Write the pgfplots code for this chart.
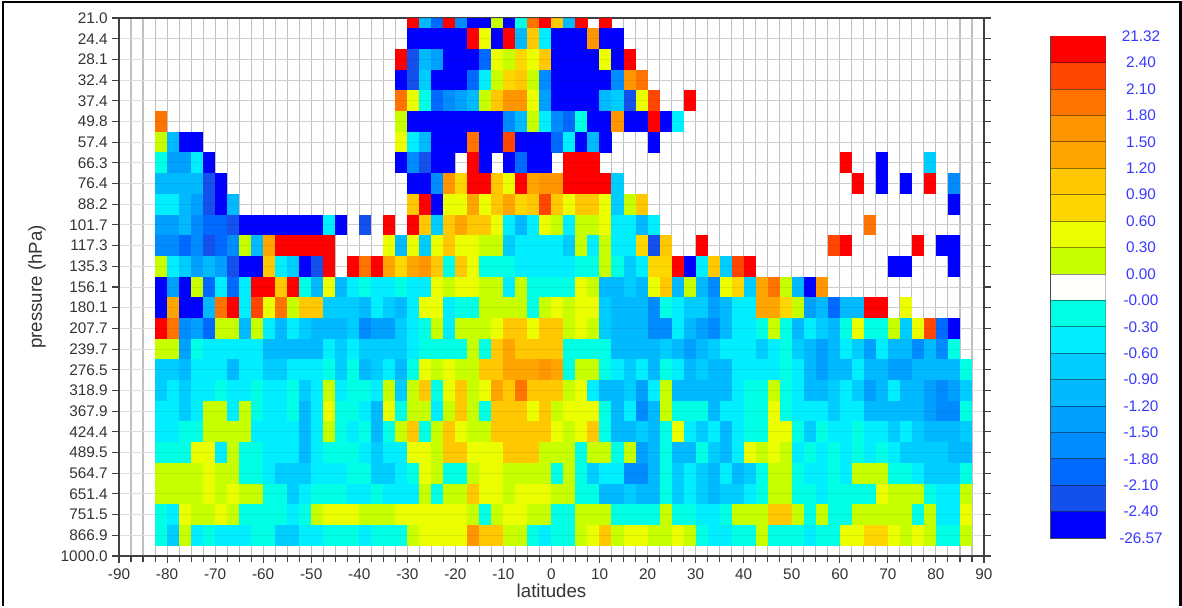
\documentclass[border=0pt]{standalone}
\usepackage{pgfplots}
\usepackage{pgfplotstable}
\usepackage{fontspec}
\setmainfont{Liberation Sans}
\pgfplotsset{compat=1.18}
% class index of each cell: one line per pressure level, one value per 2.5 degree column from -82.5 on
% 0 = -26.57..-2.40 ... 8 = -0.30..-0.00, 9 = no data, 10 = 0.00..0.30 ... 18 = 2.40..21.32
\pgfplotstableread[header=false]{
9 9 9 9 9 9 9 9 9 9  9 9 9 9 9 9 9 9 9 9  9 18 5 2 18 3 0 0 10 0  8 16 18 13 5 18 9 18 9 9  9 9 9 9 9 9 9 9 9 9  9 9 9 9 9 9 9 9 9 9  9 9 9 9 9 9 9 9
9 9 9 9 9 9 9 9 9 9  9 9 9 9 9 9 9 9 9 9  9 0 0 0 0 0 18 11 0 18  5 13 7 0 0 0 15 0 0 9  9 9 9 9 9 9 9 9 9 9  9 9 9 9 9 9 9 9 9 9  9 9 9 9 9 9 9 9
9 9 9 9 9 9 9 9 9 9  9 9 9 9 9 9 9 9 9 9  18 1 5 4 0 0 0 2 11 10  12 11 13 0 0 0 0 11 0 18  9 9 9 9 9 9 9 9 9 9  9 9 9 9 9 9 9 9 9 9  9 9 9 9 9 9 9 9
9 9 9 9 9 9 9 9 9 9  9 9 9 9 9 9 9 9 9 9  0 1 6 0 0 0 2 7 10 12  13 10 3 0 0 0 0 0 3 15  16 9 9 9 9 9 9 9 9 9  9 9 9 9 9 9 9 9 9 9  9 9 9 9 9 9 9 9
9 9 9 9 9 9 9 9 9 9  9 9 9 9 9 9 9 9 9 9  16 11 8 2 3 4 5 10 13 15  15 11 4 0 0 0 0 5 6 1  11 17 9 9 18 9 9 9 9 9  9 9 9 9 9 9 9 9 9 9  9 9 9 9 9 9 9 9
16 9 9 9 9 9 9 9 9 9  9 9 9 9 9 9 9 9 9 9  10 0 0 0 0 0 0 0 0 3  5 10 7 3 2 8 0 0 15 0  0 18 0 7 9 9 9 9 9 9  9 9 9 9 9 9 9 9 9 9  9 9 9 9 9 9 9 9
10 5 0 0 9 9 9 9 9 9  9 9 9 9 9 9 9 9 9 9  11 7 5 0 0 0 16 0 0 17  0 0 0 2 7 0 5 0 9 9  9 0 9 9 9 9 9 9 9 9  9 9 9 9 9 9 9 9 9 9  9 9 9 9 9 9 9 9
8 4 4 7 0 9 9 9 9 9  9 9 9 9 9 9 9 9 9 9  0 3 1 0 0 9 18 0 9 0  2 0 0 9 18 18 18 9 9 9  9 9 9 9 9 9 9 9 9 9  9 9 9 9 9 9 9 18 9 9  0 9 9 9 6 9 9 9
5 5 5 5 1 0 9 9 9 9  9 9 9 9 9 9 9 9 9 9  9 0 0 3 15 12 18 18 13 11  18 14 15 15 18 18 18 18 6 9  9 9 9 9 9 9 9 9 9 9  9 9 9 9 9 9 9 9 18 9  0 9 0 9 18 9 3 9
7 7 5 4 1 0 5 9 9 9  9 9 9 9 9 9 9 9 9 9  9 13 18 0 11 11 14 11 13 14  12 13 17 13 11 13 13 11 6 10  13 9 9 9 9 9 9 9 9 9  9 9 9 9 9 9 9 9 9 9  9 9 9 9 9 9 0 9
4 4 5 3 2 2 1 0 0 0  0 0 0 0 7 0 9 1 9 18  9 18 13 6 13 14 13 13 11 7  5 7 11 10 7 10 10 11 7 7  5 7 9 9 9 9 9 9 9 9  9 9 9 9 9 9 9 9 9 16  9 9 9 9 9 9 9 9
3 3 2 3 1 2 3 10 5 14  18 18 18 18 18 9 9 9 9 11  5 11 6 11 13 11 11 10 10 6  7 7 7 7 6 10 7 10 7 7  12 1 13 9 9 18 9 9 9 9  9 9 9 9 9 9 17 18 9 9  9 9 9 18 9 0 0 9
10 7 6 4 5 4 1 0 0 13  7 6 0 1 18 9 18 16 18 14  12 14 15 13 8 13 11 8 8 8  7 7 7 7 7 8 8 10 8 6  7 12 12 18 0 7 13 6 17 18  9 9 9 9 9 9 9 9 9 9  9 0 0 9 9 9 0 9
0 4 0 10 2 7 2 7 18 18  13 18 8 5 11 5 7 8 7 7  8 7 7 11 10 11 11 10 10 7  10 8 8 8 8 11 10 5 5 6  5 11 13 5 10 5 3 11 12 6  14 16 10 5 0 15 9 9 9 9  9 9 9 9 9 9 9 9
0 14 0 0 5 16 18 7 17 11  16 10 13 13 6 6 6 5 7 6  5 7 11 11 7 8 8 10 10 10  10 8 10 11 10 11 11 6 5 5  5 3 8 7 6 6 4 5 7 7  14 14 12 10 4 5 2 5 5 18  18 9 11 9 9 9 9 9
18 16 3 4 2 10 10 5 10 7  5 7 6 5 5 5 6 3 4 4  6 7 8 10 7 10 10 10 11 13  13 11 13 13 10 11 10 6 5 5  5 3 3 7 5 4 3 5 7 7  8 10 8 5 7 6 5 8 11 8  8 10 6 11 17 2 0 9
10 10 4 8 7 7 7 7 7 5  5 5 5 5 7 6 7 6 6 6  6 7 8 8 8 8 10 8 13 14  13 13 13 13 8 8 8 8 5 5  5 5 6 5 4 5 6 7 7 7  6 7 8 6 5 4 5 7 6 4  7 5 5 3 5 3 8 9
6 6 5 7 7 7 5 7 7 6  6 7 7 7 8 6 8 5 6 7  5 8 11 10 11 10 10 13 13 14  14 14 15 14 8 10 10 8 7 6  7 5 8 7 5 6 5 5 7 7  7 7 8 7 5 4 5 5 7 5  5 4 4 5 5 5 5 8
6 7 6 7 7 8 7 7 8 7  7 8 6 7 10 7 8 8 7 10  6 10 13 8 11 13 10 11 14 13  16 13 13 13 10 11 7 5 5 6  4 7 10 5 5 5 5 5 7 8  8 10 8 7 5 5 6 7 6 4  5 7 5 5 4 3 4 6
7 7 6 7 10 10 7 10 8 7  7 8 5 7 11 8 8 7 5 11  8 10 10 7 10 13 10 8 13 13  13 11 13 10 11 11 11 8 5 7  3 5 10 8 8 8 5 7 7 8  8 11 8 7 7 7 6 7 7 5  5 5 5 5 4 3 3 8
7 7 8 8 10 10 10 10 7 7  7 7 5 7 10 8 7 8 5 8  10 13 8 10 13 11 10 10 13 13  13 13 13 11 10 11 13 8 5 5  6 5 8 11 7 6 7 5 7 8  8 11 11 8 6 8 7 7 8 7  7 6 7 6 5 5 5 6
8 8 8 11 11 7 10 8 8 7  7 7 5 7 8 8 8 7 6 7  7 11 11 10 13 13 11 11 11 13  13 13 10 10 10 8 10 10 8 10  4 5 8 5 5 8 6 5 7 11  10 11 10 7 8 7 8 7 8 7  8 7 6 6 6 6 5 5
10 10 10 10 11 10 10 8 8 7  6 6 6 7 7 7 8 8 6 6  7 8 11 10 8 8 10 11 11 10  10 10 10 8 10 8 6 7 7 3  3 5 8 6 7 6 5 7 5 6  8 10 10 8 7 7 8 7 10 10  10 8 8 7 6 6 6 8
10 10 10 10 11 10 11 10 10 8  8 6 7 8 8 8 7 7 8 7  7 7 10 8 10 10 13 11 11 10  11 11 11 10 10 8 8 5 5 6  5 5 8 6 7 6 5 6 6 7  8 10 10 8 8 7 8 8 8 8  11 10 10 10 8 7 7 10
8 7 11 10 10 11 10 8 8 8  8 7 8 10 11 11 11 10 10 10  11 11 11 11 11 11 10 8 10 11  11 10 10 8 8 10 10 10 8 8  8 8 10 8 8 7 7 8 10 10  10 13 13 10 8 10 8 8 10 10  10 10 10 8 10 7 7 11
8 6 10 7 8 7 7 7 8 8  6 6 7 7 8 8 8 7 8 8  8 10 11 11 11 11 15 13 13 10  10 8 7 8 8 10 11 13 10 11  11 10 10 11 10 8 7 7 8 8  10 8 8 8 7 8 8 11 11 12  12 11 10 11 10 8 8 10
}\rawcells
\pgfplotstabletranspose\cells{\rawcells}
\pgfplotstableread{
y c
0.5 0
1.5 1
2.5 2
3.5 3
4.5 4
5.5 5
6.5 6
7.5 7
8.5 8
9.5 9
10.5 10
11.5 11
12.5 12
13.5 13
14.5 14
15.5 15
16.5 16
17.5 17
18.5 18
}\barcells
\pgfplotsset{
  colormap={cells}{
    rgb255=(0,0,255) rgb255=(20,80,235) rgb255=(0,105,255) rgb255=(0,140,255)
    rgb255=(0,160,255) rgb255=(0,185,255) rgb255=(0,205,255) rgb255=(0,238,255)
    rgb255=(0,255,230) rgb255=(255,255,255) rgb255=(200,255,0) rgb255=(235,255,0)
    rgb255=(255,215,0) rgb255=(255,200,0) rgb255=(255,165,0) rgb255=(255,150,0)
    rgb255=(255,115,0) rgb255=(255,70,0) rgb255=(255,0,0)},
}
\definecolor{axisgray}{gray}{0.25}
\definecolor{labblue}{rgb}{0.22,0.22,1}
\begin{document}
\begin{tikzpicture}[x=1pt,y=1pt]
\path (0,0) rectangle (886.5,454.5);
\draw[black,line width=1.9pt] (2.2,0) -- (2.2,453) -- (885.2,453) -- (885.2,0);
\begin{axis}[
  at={(89.25pt,37.5pt)}, anchor=south west,
  scale only axis, width=648.75pt, height=403.5pt,
  xmin=-90, xmax=90, ymin=0, ymax=26, y dir=reverse,
  point meta min=0, point meta max=18,
  clip marker paths=true,
  xtick={-90,-80,...,90},
  xticklabels={-90,-80,-70,-60,-50,-40,-30,-20,-10,0,10,20,30,40,50,60,70,80,90},
  minor x tick num=3,
  ytick={0,...,26},
  yticklabels={21.0,24.4,28.1,32.4,37.4,49.8,57.4,66.3,76.4,88.2,101.7,117.3,135.3,156.1,180.1,207.7,239.7,276.5,318.9,367.9,424.4,489.5,564.7,651.4,751.5,866.9,1000.0},
  xtick pos=bottom,
  tick align=outside,
  major tick length=5pt, minor tick length=4.5pt,
  xmajorgrids, xminorgrids, ymajorgrids,
  x grid style={black!25,line width=.8pt},
  minor x grid style={black!25,line width=.8pt},
  y grid style={black!13,line width=.7pt},
  tick style={axisgray,line width=.8pt},
  axis line style={axisgray,line width=1.1pt},
  tick label style={font=\fontsize{11.5}{13}\selectfont,text=black!80},
  xticklabel style={yshift=-1pt},
  xlabel={latitudes}, ylabel={pressure (hPa)},
  every axis x label/.style={at={(axis description cs:0.5,-0.065)},anchor=center,font=\fontsize{14}{16}\selectfont,text=black!80},
  every axis y label/.style={at={(axis description cs:-0.0948,0.5)},anchor=center,rotate=90,font=\fontsize{14}{16}\selectfont,text=black!80},
]
\pgfplotsinvokeforeach{0,...,25}{
  \addplot[scatter, only marks, scatter src=explicit, mark=square*, mark size=1pt,
    scatter/use mapped color={draw opacity=0,fill=mapped color},
    mark options={xscale=4.56,yscale=7.82,line width=0pt,draw opacity=0}]
    table[x expr={ifthenelse(\thisrow{#1}==9,nan,\thisrow{colnames}*2.5-81.25)}, y expr=#1, meta=#1]{\cells};
}
\pgfplotsinvokeforeach{0,...,26}{
  \draw[black,opacity=.07,line width=.7pt] (axis cs:-82.5,#1) -- (axis cs:87.5,#1);
}
\end{axis}
\begin{axis}[
  at={(788.25pt,50.9pt)}, anchor=south west,
  scale only axis, width=41pt, height=376.5pt,
  xmin=0, xmax=1, ymin=0, ymax=19,
  point meta min=0, point meta max=18,
  clip marker paths=true,
  xtick=\empty,
  ytick={0,...,19},
  yticklabels={-26.57,-2.40,-2.10,-1.80,-1.50,-1.20,-0.90,-0.60,-0.30,-0.00,0.00,0.30,0.60,0.90,1.20,1.50,1.80,2.10,2.40,21.32},
  yticklabel pos=right,
  major tick length=0pt,
  axis line style={black!70,line width=.9pt},
  yticklabel style={font=\fontsize{11.5}{13}\selectfont,text=labblue,anchor=center,xshift=26.5pt},
]
\addplot[scatter, only marks, scatter src=explicit, mark=square*, mark size=1pt,
  scatter/use mapped color={draw opacity=0,fill=mapped color},
  mark options={xscale=20.5,yscale=9.95,line width=0pt,draw opacity=0}]
  table[x expr=0.5, y=y, meta=c]{\barcells};
\pgfplotsinvokeforeach{1,...,18}{
  \draw[black,opacity=.45,line width=.6pt] (axis cs:0,#1) -- (axis cs:1,#1);
}
\end{axis}
\end{tikzpicture}
\end{document}
